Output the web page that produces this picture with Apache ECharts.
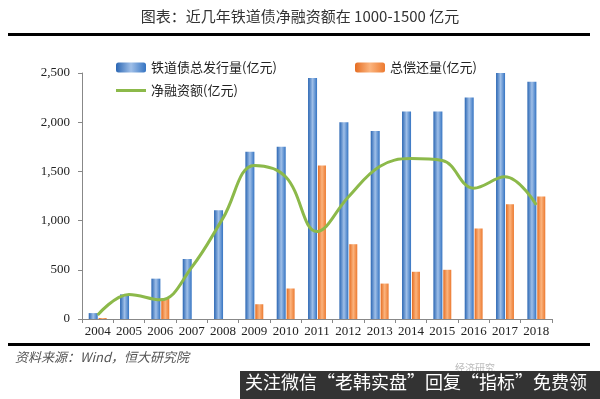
<!DOCTYPE html>
<html>
<head>
<meta charset="utf-8">
<script src="https://cdn.jsdelivr.net/npm/echarts@6/dist/echarts.min.js"></script>
<style>
  html, body { margin: 0; padding: 0; background: #fff; }
  #chart { width: 600px; height: 399px; }
</style>
</head>
<body>
<div id="chart"></div>
<script>
// 数据
const years = ['2004', '2005', '2006', '2007', '2008', '2009', '2010', '2011', '2012', '2013', '2014', '2015', '2016', '2017', '2018'];
const issued = [60, 250, 410, 610, 1105, 1700, 1750, 2450, 2000, 1910, 2110, 2110, 2250, 2510, 2410];
const repaid = [10, 0, 210, 0, 0, 150, 310, 1560, 760, 360, 480, 500, 920, 1165, 1245];
const netFinancing = [40, 250, 195, 525, 1025, 1560, 1445, 890, 1240, 1550, 1630, 1610, 1330, 1445, 1160];
const yTicks = [0, 500, 1000, 1500, 2000, 2500];

const serif = '"Liberation Serif", "DejaVu Serif", serif';
const cjk = '"Noto Sans CJK SC", "Liberation Serif", serif';

const blueFill = new echarts.graphic.LinearGradient(0, 0, 1, 0, [
  { offset: 0, color: '#2a66b3' },
  { offset: 0.5, color: '#9fbfe8' },
  { offset: 1, color: '#3574c2' }
]);
const orangeFill = new echarts.graphic.LinearGradient(0, 0, 1, 0, [
  { offset: 0, color: '#e56d22' },
  { offset: 0.5, color: '#fbb47e' },
  { offset: 1, color: '#ec7a30' }
]);

const chart = echarts.init(document.getElementById('chart'));
chart.setOption({
  animation: false,
  grid: { left: 82, right: 48, top: 73, bottom: 80 },
  graphic: [
    {
      type: 'text', left: 'center', top: 9,
      style: { text: '图表：近几年铁道债净融资额在 1000-1500 亿元', font: '15px ' + cjk, fill: '#333' }
    },
    { type: 'rect', shape: { x: 8, y: 33, width: 582, height: 3 }, style: { fill: '#000' } },
    { type: 'rect', shape: { x: 8, y: 343, width: 582, height: 3 }, style: { fill: '#000' } },
    {
      type: 'text', left: 15, top: 351,
      style: { text: '资料来源：Wind，恒大研究院', font: 'italic 13px ' + cjk, fill: '#555' }
    },
    {
      type: 'text', left: 455, top: 363,
      style: { text: '经济研究', font: '10px ' + cjk, fill: '#bbb' }
    },
    { type: 'rect', shape: { x: 240, y: 371, width: 360, height: 28 }, style: { fill: '#333' } },
    {
      type: 'text', left: 245, top: 373,
      style: { text: '关注微信“老韩实盘”回复“指标”免费领', font: '18px ' + cjk, fill: '#fff' }
    }
  ],
  legend: [
    {
      data: ['铁道债总发行量(亿元)'], left: 111, top: 56,
      itemWidth: 30, itemHeight: 10, itemGap: 4,
      textStyle: { fontFamily: cjk, fontSize: 13, color: '#222' }
    },
    {
      data: ['总偿还量(亿元)'], left: 350, top: 56,
      itemWidth: 30, itemHeight: 10,
      textStyle: { fontFamily: cjk, fontSize: 13, color: '#222' }
    },
    {
      data: [{ name: '净融资额(亿元)', icon: 'rect' }], left: 111, top: 79,
      itemWidth: 30, itemHeight: 3,
      textStyle: { fontFamily: cjk, fontSize: 13, color: '#222' }
    }
  ],
  xAxis: {
    type: 'category',
    data: years,
    axisLine: { lineStyle: { color: '#888', width: 1 } },
    axisTick: { show: true, length: 4, lineStyle: { color: '#888' } },
    axisLabel: { fontFamily: serif, fontSize: 13, color: '#222', margin: 6, interval: 0 }
  },
  yAxis: {
    type: 'value',
    min: yTicks[0],
    max: yTicks[yTicks.length - 1],
    interval: 500,
    axisLine: { show: true, lineStyle: { color: '#888', width: 1 } },
    axisTick: { show: true, length: 4, lineStyle: { color: '#888' } },
    splitLine: { show: false },
    axisLabel: {
      fontFamily: serif, fontSize: 13, color: '#222', margin: 12,
      formatter: v => v.toLocaleString('en-US')
    }
  },
  series: [
    {
      name: '铁道债总发行量(亿元)',
      type: 'bar',
      data: issued,
      barWidth: 9,
      barGap: '10%',
      itemStyle: { color: blueFill }
    },
    {
      name: '总偿还量(亿元)',
      type: 'bar',
      data: repaid,
      barWidth: 8,
      itemStyle: { color: orangeFill }
    },
    {
      name: '净融资额(亿元)',
      type: 'line',
      data: netFinancing,
      smooth: 0.4,
      symbol: 'none',
      lineStyle: { color: '#8cb94a', width: 3 },
      itemStyle: { color: '#8cb94a' },
      z: 5
    }
  ]
});
</script>
</body>
</html>
